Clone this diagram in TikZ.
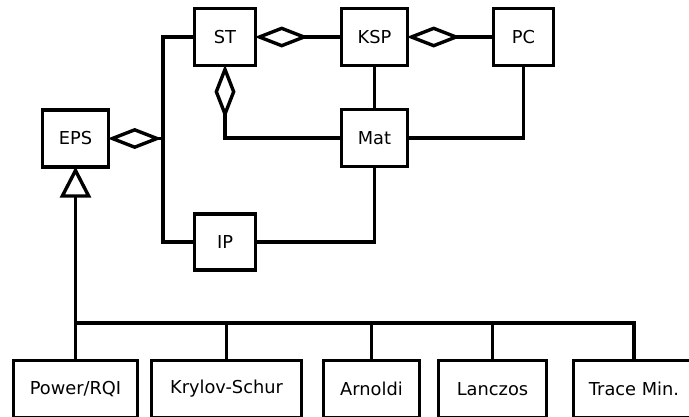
\documentclass[tikz,border=0pt]{standalone}
\usepackage{fontspec}
\setmainfont{DejaVu Sans}
\usetikzlibrary{arrows.meta}
\begin{document}
\begin{tikzpicture}[x=1pt,y=-1pt,
  box/.style={draw, line width=3.4pt, minimum width=#1, minimum height=57pt, inner sep=0pt,
    font=\fontsize{17.8}{21}\selectfont},
  conn/.style={line width=3.4pt},
  agg/.style={conn, shorten <=-2.5pt, {Diamond[open,length=54pt,width=21pt]}-},
  inh/.style={conn, shorten <=-2pt, {Triangle[open,length=31pt,width=31pt]}-}]
\useasboundingbox (0,0) rectangle (689,416);
\clip (0,0) rectangle (689,416);
% top row
\node[box=61pt] (ST) at (225,37) {ST};
\node[box=66pt] (KSP) at (374.5,37) {KSP};
\node[box=60pt] (PC) at (523.5,37) {PC};
\node[box=66pt] (EPS) at (75.5,138.5) {EPS};
\node[box=66pt] (Mat) at (374.5,138) {Mat};
\node[box=61pt, minimum height=56pt] (IP) at (225,242) {IP};
% bottom row
\node[box=124pt] (Pow) at (75.5,389) {Power/RQI};
\node[box=150pt] (Kry) at (226.5,389) {Krylov-Schur};
\node[box=96pt] (Arn) at (371.5,389) {Arnoldi};
\node[box=108pt] (Lan) at (492.5,389) {Lanczos};
\node[box=121pt] (Tra) at (634,389) {Trace Min.};
% coordinates
\coordinate (bt) at (163,37);
\coordinate (bb) at (163,242);
\coordinate (hb) at (0,323);
% connectors
\draw[conn] (ST.west) -- (bt) -- (bb) -- (IP.west);
\draw[agg] (EPS.east) -- (EPS.east -| bt);
\draw[agg] (ST.east) -- (KSP.west);
\draw[agg] (KSP.east) -- (PC.west);
\draw[conn] (KSP.south) -- (Mat.north);
\draw[agg] (ST.south) |- (Mat.west);
\draw[conn] (Mat.east) -| (PC.south);
\draw[conn] (IP.east) -| (Mat.south);
\draw[inh] (EPS.south) -- (Pow.north);
\draw[conn] (Pow.north |- hb) -- (Tra.north |- hb) -- (Tra.north);
\draw[conn] (Kry.north) -- (Kry.north |- hb);
\draw[conn] (Arn.north) -- (Arn.north |- hb);
\draw[conn] (Lan.north) -- (Lan.north |- hb);
\end{tikzpicture}
\end{document}
